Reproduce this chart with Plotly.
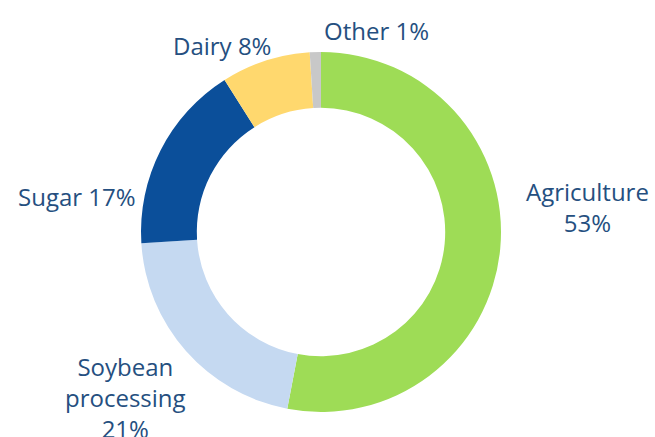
import plotly.graph_objects as go

categories = ["Agriculture", "Soybean processing", "Sugar", "Dairy", "Other"]
values = [53, 21, 17, 8, 1]
colors = ["#9edc56", "#c5d9f1", "#0b4f9a", "#ffd86e", "#c8c8c8"]
label_texts = ["Agriculture<br>53%", "Soybean<br>processing<br>21%", "Sugar 17%", "Dairy 8%", "Other 1%"]

W, H = 655, 437
cx, cy, R = 321, 232, 180

fig = go.Figure(go.Pie(
    labels=categories,
    values=values,
    hole=0.69,
    sort=False,
    direction="clockwise",
    rotation=0,
    marker=dict(colors=colors, line=dict(width=0)),
    textinfo="none",
    hoverinfo="label+percent",
    showlegend=False,
    domain=dict(x=[(cx - R) / W, (cx + R) / W], y=[(H - cy - R) / H, (H - cy + R) / H]),
))

label_pos = [(587, 207), (125, 397), (77, 196), (222, 45), (376, 30)]
font = dict(family="Open Sans", size=24, color="#254f80")
for txt, (x, y) in zip(label_texts, label_pos):
    fig.add_annotation(x=x / W, y=1 - y / H, xref="paper", yref="paper",
                       text=txt, showarrow=False, font=font,
                       xanchor="center", yanchor="middle", align="center")

fig.update_layout(width=W, height=H, margin=dict(l=0, r=0, t=0, b=0),
                  paper_bgcolor="white", plot_bgcolor="white")
fig.write_html("out.html")
